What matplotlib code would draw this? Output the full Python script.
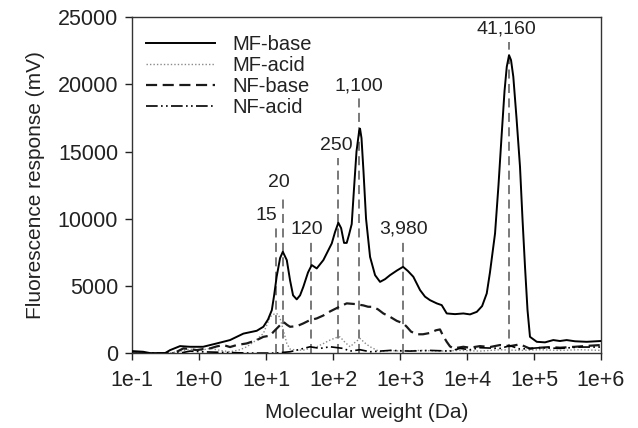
import matplotlib
matplotlib.use("Agg")
import matplotlib.pyplot as plt

plt.rcParams['font.family'] = ['Liberation Sans', 'DejaVu Sans']

# molecular weight (Da) and fluorescence (mV)
mf_base_x = [0.1, 0.146, 0.186, 0.311, 0.369, 0.52, 0.734, 1.15, 1.84, 2.9, 4.59, 7.26, 9.12,
             10.7, 12.2, 13.2, 14.4, 16.2, 17.8, 20.4, 22.8, 25.3, 28.7, 32.2, 36.0, 42.3,
             48.1, 57.1, 71.7, 95.7, 107, 120, 132, 146, 160, 173, 190, 206, 224, 245, 253,
             266, 285, 311, 357, 424, 503, 597, 709, 902, 1110, 1316, 1580, 1990, 2360, 2800,
             3530, 4190, 4980, 6620, 8810, 11100, 14000, 16800, 19700, 22000, 26200, 29500,
             33000, 36300, 39200, 42400, 45400, 49100, 54800, 61800, 67300, 73400, 80000,
             87100, 110000, 146000, 194000, 244000, 307000, 409000, 612000, 1000000]
mf_base_y = [150, 100, 0, 0, 220, 520, 470, 470, 720, 970, 1450, 1660, 1960,
             2500, 3200, 4300, 5680, 7070, 7540, 6920, 5430, 4300, 4000, 4300, 4930, 6000,
             6550, 6300, 6920, 8160, 9000, 9700, 9300, 8200, 8200, 8800, 9600, 12300, 15000,
             16500, 16700, 16000, 13500, 10000, 7160, 5800, 5300, 5500, 5800, 6150, 6420,
             6100, 5680, 4690, 4200, 3940, 3700, 3570, 2950, 2900, 2950, 2880, 3070, 3500,
             4440, 6000, 8900, 12500, 16350, 19500, 21300, 22170, 21800, 20560, 17500, 13860,
             10000, 6420, 3200, 1210, 840, 800, 970, 900, 970, 880, 840, 900]

mf_acid_x = [0.1, 0.369, 0.52, 0.734, 1.03, 1.46, 2.06, 2.9, 4.09, 5.15, 6.85, 9.12, 11.5,
             13.6, 15.1, 16.2, 18.1, 20.4, 22.8, 28.7, 36.0, 45.4, 57.1, 71.0, 90.2, 111,
             127, 151, 180, 213, 253, 300, 357, 503, 709, 1000, 1990, 3950, 7870, 15600,
             31100, 61800, 123000, 244000, 486000, 1000000]
mf_acid_y = [0, 0, 150, 300, 200, 350, 200, 100, 250, 470, 900, 1460, 2700,
             2950, 2900, 2580, 1710, 720, 300, 220, 220, 350, 470, 700, 970, 1150,
             1210, 800, 470, 800, 1090, 750, 470, 100, 200, 150, 200, 150, 200, 150,
             250, 200, 250, 200, 250, 200]

nf_base_x = [0.465, 0.583, 0.734, 0.925, 1.15, 1.46, 1.84, 2.31, 2.9, 3.65, 5.15, 7.26, 9.12,
             11.5, 12.9, 16.2, 18.1, 20.6, 22.8, 28.7, 36.0, 45.4, 57.1, 71.7, 90.2, 119,
             160, 213, 283, 333, 399, 470, 564, 709, 893, 1120, 1260, 1460, 1770, 2200,
             2800, 3450, 3950, 4380, 4980, 5570, 6250, 8810, 11100, 15600, 22000, 31100,
             43900, 61800, 87100, 123000, 173000, 244000, 409000, 686000, 1000000]
nf_base_y = [100, 350, 300, 220, 300, 350, 500, 600, 450, 600, 720, 970, 1210,
             1300, 1580, 2080, 2330, 2100, 1960, 2000, 2210, 2460, 2580, 2800, 3100, 3400,
             3700, 3650, 3550, 3450, 3440, 3250, 2950, 2700, 2400, 2210, 1960, 1600, 1400,
             1400, 1500, 1700, 1760, 1300, 840, 500, 350, 470, 400, 520, 450, 600,
             520, 650, 330, 400, 450, 400, 470, 550, 600]

nf_acid_x = [0.1, 0.52, 0.734, 1.03, 5.77, 13.6, 22.8, 28.7, 45.4, 64, 90.2, 141, 180, 253,
             357, 709, 1410, 2800, 5570, 7870, 11100, 15600, 31100, 43900, 61800, 123000,
             244000, 486000, 1000000]
nf_acid_y = [0, 0, 150, 100, 0, 0, 100, 220, 470, 350, 470, 350, 150, 250,
             100, 200, 150, 200, 150, 350, 250, 400, 350, 550, 300, 400,
             350, 450, 450]

# peak markers: where the dashed line sits, how high it goes, and its label
peak_x = [14.0, 17.7, 47.4, 117, 244, 1110, 42400]
peak_top = [9280, 11760, 8280, 14490, 18950, 8280, 23160]
peak_labels = ['15', '20', '120', '250', '1,100', '3,980', '41,160']
label_shift = [-6.5, -3, -3, -1, 0, 0, -2]

xticks = [1e-1, 1e0, 1e1, 1e2, 1e3, 1e4, 1e5, 1e6]
xticklabels = ['1e-1', '1e+0', '1e+1', '1e+2', '1e+3', '1e+4', '1e+5', '1e+6']

txt = '#222222'
fig = plt.figure(figsize=(6.38, 4.28), dpi=100)
ax = fig.add_axes([0.207, 0.175, 0.735, 0.785])

for i in range(len(peak_x)):
    ax.plot([peak_x[i], peak_x[i]], [0, peak_top[i]], color='#6e6e6e', lw=1.3,
            dashes=(5, 3), zorder=1)
    ax.annotate(peak_labels[i], (peak_x[i], peak_top[i]), xytext=(label_shift[i], 3),
                textcoords='offset points', ha='center', va='bottom', fontsize=14, color=txt)

ax.plot(mf_base_x, mf_base_y, color='black', lw=1.4, label='MF-base', zorder=4)
ax.plot(mf_acid_x, mf_acid_y, color='#8a8a8a', lw=1.0, ls=(0, (1, 1.5)), label='MF-acid', zorder=2)
ax.plot(nf_base_x, nf_base_y, color='#1a1a1a', lw=1.6, ls=(0, (5, 2.5)), label='NF-base', zorder=3)
ax.plot(nf_acid_x, nf_acid_y, color='black', lw=1.2, ls=(0, (7, 2, 1, 2, 1, 2)), label='NF-acid', zorder=3)

ax.set_xscale('log')
ax.set_xlim(0.1, 1e6)
ax.set_ylim(0, 25000)
ax.set_xticks(xticks)
ax.set_xticklabels(xticklabels)
ax.minorticks_off()
ax.set_yticks([0, 5000, 10000, 15000, 20000, 25000])
ax.set_yticklabels(['0', '5000', '10000', '15000', '20000', '25000'])
ax.tick_params(direction='out', length=5, width=1, labelsize=15.5, colors=txt, pad=5)
ax.tick_params(axis='x', pad=7)
for s in ax.spines.values():
    s.set_color('#333333')
    s.set_linewidth(1.0)

ax.set_xlabel('Molecular weight (Da)', fontsize=15, color=txt, labelpad=9)
ax.set_ylabel('Fluorescence response (mV)', fontsize=15, color=txt, labelpad=9)

leg = ax.legend(loc='upper left', bbox_to_anchor=(0.0, 0.99), frameon=False, fontsize=14.5,
                handlelength=3.4, handletextpad=0.9, labelspacing=0.1, borderaxespad=0.3)
for t in leg.get_texts():
    t.set_color(txt)

fig.savefig('out.png', dpi=100)
